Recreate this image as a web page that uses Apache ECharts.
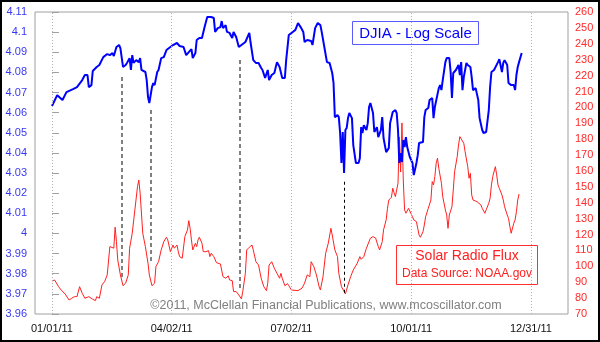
<!DOCTYPE html>
<html>
<head>
<meta charset="utf-8">
<script src="https://cdn.jsdelivr.net/npm/echarts@6/dist/echarts.min.js"></script>
<style>
  html, body { margin: 0; padding: 0; background: #fff; }
  #chart { width: 600px; height: 342px; }
</style>
</head>
<body>
<div id="chart"></div>
<script>
// Day offsets are counted from 01/01/11.
const tickDays = [0, 91, 182, 273, 364];
const tickLabels = ['01/01/11', '04/02/11', '07/02/11', '10/01/11', '12/31/11'];

// DJIA, log10 of the close: [day, value]
const djia = [
  [0,4.0633],[4,4.0687],[5,4.0678],[8,4.0663],[11,4.0702],[16,4.0717],[19,4.0727],[23,4.0762],
  [25,4.0787],[27,4.0787],[28,4.0727],[30,4.0737],[31,4.0807],[34,4.0827],[36,4.0837],[39,4.0876],
  [42,4.0891],[44,4.0886],[46,4.0896],[47,4.0881],[49,4.0926],[51,4.0936],[52,4.0921],[54,4.0827],
  [56,4.0837],[57,4.0847],[59,4.0871],[60,4.0812],[61,4.0886],[62,4.0847],[64,4.0861],[66,4.0851],
  [67,4.0871],[68,4.0812],[71,4.0802],[72,4.0762],[73,4.0678],[74,4.0648],[76,4.0727],[77,4.0747],
  [78,4.0737],[80,4.0802],[81,4.0812],[83,4.0871],[85,4.0876],[87,4.0911],[90,4.0926],[92,4.0936],
  [95,4.0946],[97,4.0931],[100,4.0926],[102,4.0886],[104,4.0901],[106,4.0916],[107,4.0871],[109,4.0896],
  [110,4.0961],[112,4.0971],[114,4.0971],[116,4.1025],[118,4.1075],[121,4.1075],[123,4.1070],[124,4.1001],
  [126,4.1020],[128,4.1025],[129,4.1055],[130,4.1020],[132,4.1035],[133,4.1001],[135,4.0996],[137,4.0971],
  [138,4.1001],[140,4.0976],[142,4.0926],[144,4.0936],[147,4.0951],[148,4.0946],[150,4.0996],[151,4.0946],
  [153,4.0861],[155,4.0847],[157,4.0847],[159,4.0822],[160,4.0812],[162,4.0772],[164,4.0812],[165,4.0762],
  [167,4.0787],[169,4.0797],[171,4.0851],[173,4.0827],[175,4.0772],[177,4.0772],[178,4.0861],[180,4.0986],
  [183,4.1001],[185,4.1011],[187,4.1045],[189,4.1025],[191,4.1001],[192,4.0951],[194,4.0961],[197,4.0956],
  [198,4.0936],[200,4.1020],[202,4.1045],[204,4.1035],[205,4.1001],[207,4.0926],[209,4.0851],[211,4.0847],
  [213,4.0797],[214,4.0747],[215,4.0578],[217,4.0588],[218,4.0578],[219,4.0499],[220,4.0350],[221,4.0504],
  [222,4.0300],[223,4.0514],[224,4.0524],[225,4.0573],[226,4.0598],[228,4.0573],[229,4.0439],[231,4.0350],
  [233,4.0350],[234,4.0374],[235,4.0528],[236,4.0499],[237,4.0538],[239,4.0514],[240,4.0548],[241,4.0628],
  [242,4.0648],[244,4.0598],[245,4.0504],[247,4.0528],[248,4.0479],[250,4.0514],[251,4.0578],[252,4.0474],
  [254,4.0404],[256,4.0424],[257,4.0548],[259,4.0603],[261,4.0613],[262,4.0598],[263,4.0514],[264,4.0350],
  [265,4.0399],[266,4.0355],[267,4.0464],[268,4.0429],[269,4.0479],[270,4.0429],[272,4.0379],[274,4.0350],
  [275,4.0290],[277,4.0350],[278,4.0389],[279,4.0449],[280,4.0454],[282,4.0454],[283,4.0578],[284,4.0613],
  [286,4.0623],[287,4.0663],[289,4.0673],[290,4.0573],[291,4.0628],[292,4.0623],[294,4.0722],[295,4.0737],
  [296,4.0712],[297,4.0762],[299,4.0851],[300,4.0871],[302,4.0871],[303,4.0802],[304,4.0673],[305,4.0797],
  [307,4.0812],[309,4.0837],[310,4.0787],[311,4.0851],[312,4.0712],[313,4.0777],[315,4.0847],[316,4.0837],
  [318,4.0827],[319,4.0777],[320,4.0712],[322,4.0722],[324,4.0663],[325,4.0573],[327,4.0514],[328,4.0499],
  [330,4.0504],[332,4.0613],[333,4.0727],[334,4.0802],[336,4.0812],[337,4.0807],[339,4.0851],[340,4.0866],
  [342,4.0802],[343,4.0847],[344,4.0861],[346,4.0837],[347,4.0747],[349,4.0737],[351,4.0737],[352,4.0712],
  [353,4.0787],[354,4.0827],[355,4.0851],[357,4.0896]
];

// Solar radio flux: [day, value]
const solarFlux = [
  [0,90.8],[2,91.4],[5,87.2],[7,85.1],[10,82.6],[13,78.8],[15,79.9],[17,80.9],[19,80.9],[21,87.2],
  [23,83.0],[25,79.9],[28,80.9],[29,82.0],[31,79.3],[33,78.4],[34,80.9],[36,79.9],[38,88.3],[40,90.4],
  [42,94.6],[44,112.4],[45,113.4],[47,111.4],[48,124.6],[49,115.5],[50,104.0],[52,94.6],[54,87.8],[56,89.4],
  [58,94.6],[59,111.4],[61,120.8],[63,135.5],[65,150.1],[66,154.3],[67,146.0],[69,120.8],[71,112.4],[73,101.9],
  [74,94.6],[76,87.8],[78,89.4],[79,99.8],[81,102.9],[83,110.3],[85,115.5],[87,118.3],[88,116.6],[90,109.2],
  [91,108.2],[92,113.4],[93,111.4],[95,113.4],[96,109.2],[97,106.1],[99,105.1],[101,118.7],[103,122.9],[104,128.7],
  [105,123.9],[106,116.6],[107,110.3],[109,114.5],[110,112.4],[111,116.6],[112,118.3],[114,114.5],[115,109.2],[117,109.2],
  [119,109.9],[120,106.1],[121,108.2],[123,106.1],[125,102.3],[128,101.5],[130,93.5],[132,92.5],[134,94.0],[135,91.4],
  [137,91.0],[138,84.1],[140,84.1],[142,82.0],[144,79.5],[145,84.1],[147,95.6],[148,110.3],[150,112.0],[152,113.4],
  [153,110.3],[155,102.9],[157,100.8],[159,92.5],[161,87.2],[163,84.7],[164,89.4],[165,100.8],[167,102.9],[169,98.8],
  [171,95.6],[173,92.5],[174,95.6],[175,92.5],[177,87.8],[179,89.1],[180,87.8],[182,85.1],[187,84.7],[190,86.2],
  [192,89.4],[194,94.6],[196,93.5],[197,102.9],[199,99.8],[201,94.6],[203,87.2],[204,85.1],[206,93.5],[208,108.2],
  [210,114.5],[212,123.9],[213,119.7],[215,110.3],[217,106.1],[218,95.6],[220,87.2],[222,84.1],[223,82.6],[225,88.3],
  [227,93.5],[229,97.7],[230,98.2],[232,101.9],[234,106.1],[235,104.4],[237,106.1],[239,111.4],[240,112.4],[242,117.7],
  [244,118.7],[246,117.7],[248,112.4],[249,110.3],[251,115.5],[252,122.9],[254,129.2],[255,136.5],[256,141.7],[258,143.4],
  [259,149.1],[260,146.3],[261,143.8],[262,144.9],[263,152.3],[264,181.4],[265,159.4],[266,190.2],[267,154.3],[268,135.5],
  [269,133.4],[271,136.5],[272,135.5],[274,131.2],[275,129.2],[277,128.1],[278,123.9],[279,119.7],[280,118.3],[282,121.8],
  [283,126.0],[284,131.2],[286,136.5],[287,135.5],[288,141.7],[289,153.3],[290,151.2],[291,156.4],[292,164.8],[293,168.0],
  [294,161.7],[296,152.3],[297,143.8],[299,135.5],[300,132.3],[301,123.9],[302,132.3],[304,137.5],[305,148.0],[306,159.5],
  [308,169.0],[309,176.3],[310,181.6],[311,180.6],[313,177.4],[314,172.1],[316,162.7],[317,155.4],[318,158.5],[319,144.9],
  [320,141.7],[321,142.8],[323,140.7],[324,141.7],[326,138.6],[327,136.5],[329,133.4],[330,135.5],[332,139.7],[333,142.8],
  [334,151.2],[335,156.4],[337,162.7],[338,157.5],[339,151.2],[340,149.1],[342,144.9],[343,141.7],[344,137.5],[346,132.3],
  [347,130.2],[348,125.0],[349,120.8],[350,119.7],[351,127.1],[352,129.2],[353,134.4],[354,141.7],[355,145.5]
];

// Dashed connectors between DJIA turns and flux turns: [day, upper DJIA value, lower DJIA-scale value]
const connectorsGray = [[53, 4.0777, 3.9778], [75, 4.0613, 3.9851], [143, 4.0861, 3.9718]];
const connectorsBlack = [[222, 4.0257, 3.9702]];

const FONT = '"Liberation Sans", Arial, sans-serif';

function connectorLines(list) {
  return list.map(function (c) {
    return [{ coord: [c[0], c[1]] }, { coord: [c[0], c[2]] }];
  });
}

const chart = echarts.init(document.getElementById('chart'), null, { renderer: 'canvas' });

chart.setOption({
  animation: false,
  backgroundColor: '#ffffff',
  textStyle: { fontFamily: FONT },
  grid: {
    left: 35, right: 32, top: 12, bottom: 28,
    show: true, borderColor: '#a0a0a0', borderWidth: 1, backgroundColor: '#ffffff'
  },
  xAxis: {
    type: 'value',
    min: -12.9,
    max: 392.2,
    axisLine: { show: false },
    axisTick: { show: false, customValues: tickDays },
    axisLabel: {
      customValues: tickDays,
      margin: 9,
      color: '#111111',
      fontSize: 11,
      fontFamily: FONT,
      formatter: function (v) {
        const i = tickDays.indexOf(Math.round(v));
        return i >= 0 ? tickLabels[i] : '';
      }
    },
    splitLine: { show: false }
  },
  yAxis: [
    {
      type: 'value',
      min: 3.96,
      max: 4.11,
      interval: 0.01,
      position: 'left',
      axisLine: { show: false },
      axisTick: { show: true, inside: true, length: 7, lineStyle: { color: '#a0a0a0' } },
      axisLabel: {
        color: '#3838f0', fontSize: 11, fontFamily: FONT, margin: 8,
        formatter: function (v) { return String(parseFloat(v.toFixed(2))); }
      },
      splitLine: { show: false }
    },
    {
      type: 'value',
      min: 70,
      max: 260,
      interval: 10,
      position: 'right',
      axisLine: { show: false },
      axisTick: { show: false },
      axisLabel: { color: '#ff2a2a', fontSize: 11, fontFamily: FONT, margin: 7 },
      splitLine: { show: false }
    }
  ],
  series: [
    {
      // dotted vertical grid at the quarter dates
      type: 'line',
      data: [],
      silent: true,
      markLine: {
        silent: true,
        symbol: 'none',
        label: { show: false },
        lineStyle: { color: '#b0b0b0', type: [1, 2], width: 1 },
        data: tickDays.map(function (d) { return { xAxis: d }; })
      }
    },
    {
      name: 'Solar Radio Flux',
      type: 'line',
      yAxisIndex: 1,
      data: solarFlux,
      showSymbol: false,
      lineStyle: { color: '#ff2020', width: 1 },
      z: 3
    },
    {
      name: 'DJIA',
      type: 'line',
      yAxisIndex: 0,
      data: djia,
      showSymbol: false,
      lineStyle: { color: '#0000ff', width: 2 },
      z: 4,
      markLine: {
        silent: true,
        symbol: 'none',
        label: { show: false },
        lineStyle: { color: '#808080', type: [4, 3], width: 2 },
        data: connectorLines(connectorsGray)
      }
    },
    {
      type: 'line',
      yAxisIndex: 0,
      data: [],
      silent: true,
      markLine: {
        silent: true,
        symbol: 'none',
        label: { show: false },
        lineStyle: { color: '#000000', type: [3, 3], width: 1 },
        data: connectorLines(connectorsBlack)
      }
    }
  ],
  graphic: [
    {
      type: 'group', left: 352, top: 21,
      children: [
        { type: 'rect', shape: { x: 0, y: 0, width: 126, height: 23 },
          style: { fill: '#ffffff', stroke: '#5a5aff', lineWidth: 1 } },
        { type: 'text', x: 63, y: 12,
          style: { text: 'DJIA - Log Scale', fill: '#0000ff', font: '15px ' + FONT, align: 'center', verticalAlign: 'middle' } }
      ],
      z: 10
    },
    {
      type: 'group', left: 396, top: 245,
      children: [
        { type: 'rect', shape: { x: 0, y: 0, width: 141, height: 39 },
          style: { fill: '#ffffff', stroke: '#ff3030', lineWidth: 1 } },
        { type: 'text', x: 70.5, y: 11,
          style: { text: 'Solar Radio Flux', fill: '#ff2020', font: '14px ' + FONT, align: 'center', verticalAlign: 'middle' } },
        { type: 'text', x: 70.5, y: 28,
          style: { text: 'Data Source: NOAA.gov', fill: '#ff2020', font: '12px ' + FONT, align: 'center', verticalAlign: 'middle' } }
      ],
      z: 10
    },
    {
      type: 'text', x: 326, y: 306, z: 10,
      style: { text: '\u00a92011, McClellan Financial Publications, www.mcoscillator.com',
        fill: '#808080', font: '12.5px ' + FONT, align: 'center', verticalAlign: 'middle' }
    },
    {
      type: 'rect', shape: { x: 1, y: 1, width: 598, height: 340 }, z: 20, silent: true,
      style: { fill: 'none', stroke: '#000000', lineWidth: 2 }
    }
  ]
});
</script>
</body>
</html>
